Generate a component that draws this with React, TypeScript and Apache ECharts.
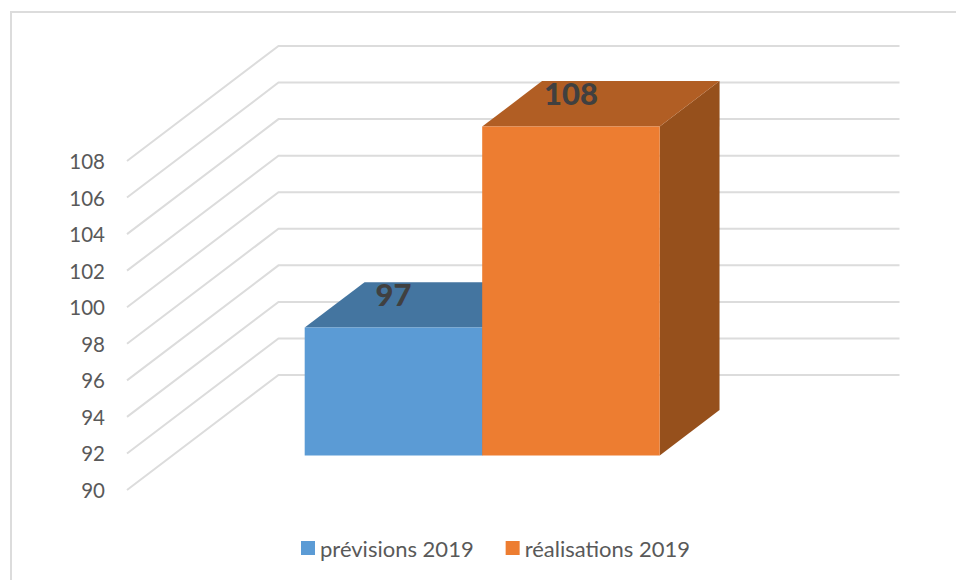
import React, { useEffect, useRef } from "react";
import * as echarts from "echarts";

const categories = ["2019"];
const yTicks = [90, 92, 94, 96, 98, 100, 102, 104, 106, 108];
const seriesNames = ["prévisions 2019", "réalisations 2019"];
const previsions = [97];
const realisations = [108];

const FONT = "Lato, 'Open Sans', sans-serif";
const GRID_LINE = "#DCDCDC";
const WALL = { dx: 151.5, dy: -115 };
const FRONT_X = 0.295;
const FRONT_Y = 0.3;
const DEPTH = 0.395;
const BAR_RATIO = 177.5 / 621;

const wallItem = (_: any, api: any) => {
  const c = api.coord([api.value(0), api.value(1)]);
  const band = api.size([1, 0])[0];
  const x0 = c[0] - band / 2;
  const x1 = c[0] + band / 2;
  return {
    type: "polyline",
    shape: {
      points: [
        [x0, c[1]],
        [x0 + WALL.dx, c[1] + WALL.dy],
        [x1 + WALL.dx, c[1] + WALL.dy],
      ],
    },
    style: { fill: "none", stroke: GRID_LINE, lineWidth: 2 },
  };
};

const barItem = (slot: number, front: string, top: string, side: string) => (_: any, api: any) => {
  const value = api.value(1);
  const c = api.coord([api.value(0), value]);
  const b = api.coord([api.value(0), yTicks[0]]);
  const band = api.size([1, 0])[0];
  const w = band * BAR_RATIO;
  const ox = WALL.dx * FRONT_X;
  const oy = WALL.dy * FRONT_Y;
  const dx = WALL.dx * DEPTH;
  const dy = WALL.dy * DEPTH;
  const l = c[0] + ox + slot * w;
  const r = l + w;
  const t = c[1] + oy;
  const bt = b[1] + oy;
  return {
    type: "group",
    children: [
      {
        type: "polygon",
        shape: { points: [[r, t], [r + dx, t + dy], [r + dx, bt + dy], [r, bt]] },
        style: { fill: side },
      },
      {
        type: "polygon",
        shape: { points: [[l, t], [l + dx, t + dy], [r + dx, t + dy], [r, t]] },
        style: { fill: top },
      },
      {
        type: "rect",
        shape: { x: l, y: t, width: w, height: bt - t },
        style: { fill: front },
      },
      {
        type: "text",
        x: l + w / 2,
        y: t - 34,
        style: {
          text: String(value),
          fill: "#404040",
          fontSize: 31,
          fontWeight: 900,
          fontFamily: FONT,
          textAlign: "center",
          textVerticalAlign: "middle",
        },
      },
    ],
  };
};

const App = () => {
  const ref = useRef<HTMLDivElement>(null);
  useEffect(() => {
    const chart = echarts.init(ref.current, null, { renderer: "svg" });
    chart.setOption({
      animation: false,
      backgroundColor: "#ffffff",
      grid: { left: 127, top: 161, width: 621, height: 329 },
      legend: {
        data: seriesNames,
        left: 301,
        top: 537,
        padding: 0,
        icon: "rect",
        itemWidth: 14,
        itemHeight: 14,
        itemGap: 32,
        selectedMode: false,
        textStyle: { color: "#595959", fontSize: 22, fontFamily: FONT },
      },
      xAxis: { type: "category", data: categories, show: false },
      yAxis: {
        type: "value",
        min: 90,
        max: 108,
        interval: 2,
        splitLine: { show: false },
        axisLine: { show: false },
        axisTick: { show: false },
        axisLabel: { color: "#595959", fontSize: 20.5, fontFamily: FONT, margin: 22 },
      },
      graphic: [
        { type: "line", shape: { x1: 11, y1: 12, x2: 956, y2: 12 }, style: { stroke: GRID_LINE, lineWidth: 2 } },
        { type: "line", shape: { x1: 11, y1: 11, x2: 11, y2: 580 }, style: { stroke: GRID_LINE, lineWidth: 2 } },
      ],
      series: [
        {
          type: "custom",
          name: "walls",
          silent: true,
          renderItem: wallItem,
          encode: { x: 0, y: 1 },
          data: yTicks.map((t) => [0, t]),
          z: 1,
        },
        {
          type: "custom",
          name: seriesNames[0],
          renderItem: barItem(-1, "#5B9BD5", "#4475A0", "#3A6590"),
          encode: { x: 0, y: 1 },
          itemStyle: { color: "#5B9BD5" },
          data: previsions.map((v) => [0, v]),
          z: 2,
        },
        {
          type: "custom",
          name: seriesNames[1],
          renderItem: barItem(0, "#ED7D31", "#B15E24", "#96501C"),
          encode: { x: 0, y: 1 },
          itemStyle: { color: "#ED7D31" },
          data: realisations.map((v) => [0, v]),
          z: 3,
        },
      ],
    });
    return () => chart.dispose();
  }, []);
  return <div ref={ref} style={{ position: "fixed", left: 0, top: 0, width: 956, height: 580 }} />;
};

export default App;
